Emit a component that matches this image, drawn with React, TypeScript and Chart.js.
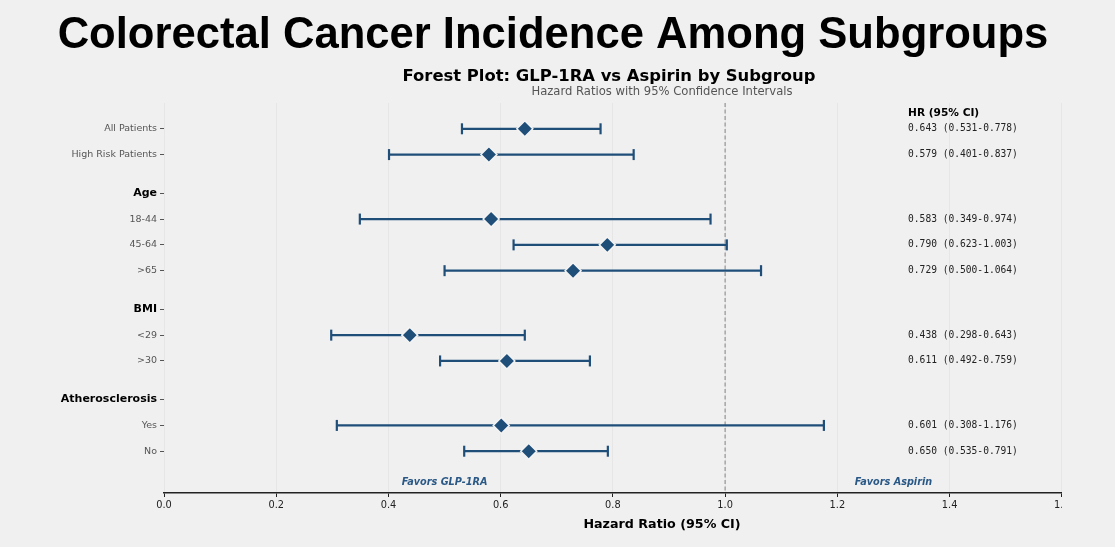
import { useEffect, useRef } from 'react';
import { Chart, registerables } from 'chart.js';

Chart.register(...registerables);

// ---------- data ----------
const pageTitle = 'Colorectal Cancer Incidence Among Subgroups';
const chartTitle = 'Forest Plot: GLP-1RA vs Aspirin by Subgroup';
const chartSubtitle = 'Hazard Ratios with 95% Confidence Intervals';
const xAxisTitle = 'Hazard Ratio (95% CI)';
const hrHeader = 'HR (95% CI)';
const favorsLeft = 'Favors GLP-1RA';
const favorsRight = 'Favors Aspirin';

const rowLabels = [
  'All Patients',
  'High Risk Patients',
  'Age',
  '18-44',
  '45-64',
  '>65',
  'BMI',
  '<29',
  '>30',
  'Atherosclerosis',
  'Yes',
  'No',
];
const rowPositions = [0, 1, 2.5, 3.5, 4.5, 5.5, 7, 8, 9, 10.5, 11.5, 12.5];
const isHeader = [false, false, true, false, false, false, true, false, false, true, false, false];
const hazardRatios: (number | null)[] = [0.643, 0.579, null, 0.583, 0.79, 0.729, null, 0.438, 0.611, null, 0.601, 0.65];
const ciLower: (number | null)[] = [0.531, 0.401, null, 0.349, 0.623, 0.5, null, 0.298, 0.492, null, 0.308, 0.535];
const ciUpper: (number | null)[] = [0.778, 0.837, null, 0.974, 1.003, 1.064, null, 0.643, 0.759, null, 1.176, 0.791];

const xTicks = [0, 0.2, 0.4, 0.6, 0.8, 1.0, 1.2, 1.4, 1.6];
const xMin = 0;
const xMax = 1.775;
const yMin = -1;
const yMax = 14.12;
const referenceValue = 1.0;
const favorsLeftAt = 0.5;
const favorsRightAt = 1.3;
const favorsRow = 13.7;
const hrColumnAt = 1.326;
const hrHeaderRow = -0.6;

const BLUE = '#1f4e79';
const FAMILY = '"DejaVu Sans", sans-serif';

export default function App() {
  const canvasRef = useRef<HTMLCanvasElement | null>(null);

  useEffect(() => {
    const canvas = canvasRef.current;
    if (!canvas) return;

    const diamondData: { x: number; y: number }[] = [];
    const barData: { x: number; y: number }[] = [];
    rowPositions.forEach((p, i) => {
      const hr = hazardRatios[i];
      const lo = ciLower[i];
      const hi = ciUpper[i];
      if (hr == null || lo == null || hi == null) return;
      diamondData.push({ x: hr, y: p });
      barData.push({ x: lo, y: p }, { x: hi, y: p }, { x: NaN, y: NaN });
    });

    const textPlugin = {
      id: 'forestTexts',
      afterDraw(chart: any) {
        const { ctx, scales } = chart;
        const x = scales.x;
        const y = scales.y;
        ctx.save();
        // page header
        ctx.textAlign = 'center';
        ctx.textBaseline = 'alphabetic';
        ctx.fillStyle = '#000';
        ctx.font = 'bold 43.6px "Liberation Sans", Arial, sans-serif';
        ctx.fillText(pageTitle, 553, 48);
        // chart title + subtitle
        ctx.textBaseline = 'middle';
        ctx.font = `bold 16.4px ${FAMILY}`;
        ctx.fillStyle = '#000';
        ctx.fillText(chartTitle, 609, 77);
        ctx.font = `11.6px ${FAMILY}`;
        ctx.fillStyle = '#555';
        ctx.fillText(chartSubtitle, 662, 92);
        // HR column
        const colX = x.getPixelForValue(hrColumnAt);
        ctx.textAlign = 'left';
        ctx.fillStyle = '#000';
        ctx.font = `bold 10.6px ${FAMILY}`;
        ctx.fillText(hrHeader, colX, y.getPixelForValue(hrHeaderRow));
        ctx.fillStyle = '#222';
        ctx.font = '9.6px "DejaVu Sans Mono", monospace';
        rowPositions.forEach((p, i) => {
          const hr = hazardRatios[i];
          const lo = ciLower[i];
          const hi = ciUpper[i];
          if (hr == null || lo == null || hi == null) return;
          ctx.fillText(`${hr.toFixed(3)} (${lo.toFixed(3)}-${hi.toFixed(3)})`, colX, y.getPixelForValue(p));
        });
        // favors labels
        ctx.textAlign = 'center';
        ctx.fillStyle = '#2a5886';
        ctx.font = `italic bold 9.7px ${FAMILY}`;
        ctx.fillText(favorsLeft, x.getPixelForValue(favorsLeftAt), y.getPixelForValue(favorsRow));
        ctx.fillText(favorsRight, x.getPixelForValue(favorsRightAt), y.getPixelForValue(favorsRow));
        ctx.restore();
      },
    };

    const chart = new Chart(canvas, {
      type: 'scatter',
      data: {
        datasets: [
          {
            label: 'HR',
            data: diamondData,
            order: 0,
            pointStyle: 'rectRot',
            pointRadius: 8,
            pointHoverRadius: 8,
            backgroundColor: BLUE,
            borderColor: '#f4f4f4',
            borderWidth: 1.5,
          } as any,
          {
            label: 'CI',
            data: barData,
            order: 1,
            showLine: true,
            spanGaps: false,
            borderColor: BLUE,
            borderWidth: 2.2,
            pointStyle: 'line',
            pointRotation: 90,
            pointRadius: 5.5,
            pointHoverRadius: 5.5,
            pointBorderColor: BLUE,
            pointBorderWidth: 2.2,
            pointBackgroundColor: BLUE,
          } as any,
          {
            label: 'ref',
            data: [
              { x: referenceValue, y: yMin },
              { x: referenceValue, y: yMax },
            ],
            order: 2,
            showLine: true,
            borderColor: '#9a9a9a',
            borderWidth: 1.3,
            borderDash: [4, 2.5],
            pointRadius: 0,
            pointHoverRadius: 0,
          } as any,
        ],
      },
      options: {
        animation: false,
        responsive: false,
        events: [],
        layout: { padding: { top: 103, right: 58, left: 0, bottom: 0 } },
        plugins: {
          legend: { display: false },
          tooltip: { enabled: false },
          title: { display: false },
        },
        scales: {
          x: {
            type: 'linear',
            min: xMin,
            max: xMax,
            afterBuildTicks: (s: any) => {
              s.ticks = xTicks.map((v) => ({ value: v }));
            },
            afterFit: (s: any) => {
              s.height = 54;
            },
            grid: {
              color: '#e3e3e3',
              lineWidth: 0.8,
              drawTicks: true,
              tickLength: 4,
              tickColor: '#222',
              tickWidth: 1,
            } as any,
            border: { color: '#222', width: 1.5 },
            ticks: {
              autoSkip: false,
              maxRotation: 0,
              padding: 3,
              color: '#222',
              font: { family: FAMILY, size: 9.8 },
              callback: (v: any) => Number(v).toFixed(1),
            },
            title: {
              display: true,
              text: xAxisTitle,
              color: '#000',
              font: { family: FAMILY, size: 12.7, weight: 'bold' },
              padding: { top: 4, bottom: 15 },
            },
          },
          y: {
            type: 'linear',
            reverse: true,
            min: yMin,
            max: yMax,
            afterBuildTicks: (s: any) => {
              s.ticks = rowPositions.map((v) => ({ value: v }));
            },
            afterFit: (s: any) => {
              s.width = 164;
            },
            grid: {
              drawOnChartArea: false,
              drawTicks: true,
              tickLength: 4,
              tickColor: '#555',
              lineWidth: 1,
            } as any,
            border: { display: false },
            ticks: {
              autoSkip: false,
              padding: 3,
              color: (ctx: any) => (isHeader[ctx.index] ? '#000' : '#555'),
              font: (ctx: any) =>
                isHeader[ctx.index]
                  ? { family: FAMILY, size: 11, weight: 'bold' }
                  : { family: FAMILY, size: 9.5 },
              callback: (_v: any, i: number) => rowLabels[i],
            },
          },
        },
      } as any,
      plugins: [textPlugin],
    });

    return () => {
      chart.destroy();
    };
  }, []);

  return (
    <div
      style={{
        position: 'absolute',
        left: 0,
        top: 0,
        width: 1115,
        height: 547,
        background: '#f0f0f0',
        overflow: 'hidden',
      }}
    >
      <div style={{ width: 1062, height: 547, overflow: 'hidden' }}>
        <canvas ref={canvasRef} width={1218} height={547} style={{ width: 1218, height: 547, display: 'block' }} />
      </div>
    </div>
  );
}
